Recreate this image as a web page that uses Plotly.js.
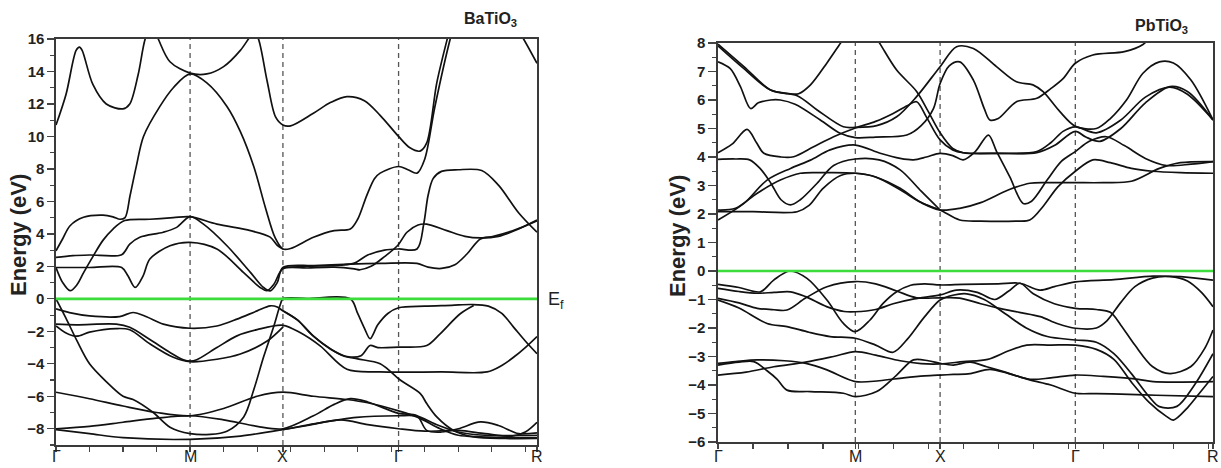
<!DOCTYPE html>
<html>
<head>
<meta charset="utf-8">
<script src="https://cdn.plot.ly/plotly-3.0.1.min.js"></script>
<style>html,body{margin:0;padding:0;background:#fff;}#chart{width:1221px;height:468px;}</style>
</head>
<body>
<div id="chart"></div>
<script>
// ---------- k-path ----------
const kLabels = ['Γ', 'M', 'X', 'Γ', 'R'];
const batioKpos = [0, 4.0, 6.77, 10.22, 14.35];
const ptioKpos = [0, 3.92, 6.34, 10.2, 14.13];

// ---------- BaTiO3 bands: [k, E(eV)] ----------
const bto_c1 = [[0,10.7],[0.3,12.6],[0.6,15.3],[0.7,15.5],[0.78,15.3],[1.1,13.2],[1.5,12.0],[2.0,11.7],[2.2,12.0],[2.45,13.8],[2.66,16],[2.85,16.9],[3.05,16],[3.4,14.6],[4.0,13.9],[4.5,13.85],[5.0,14.3],[5.5,15.3],[5.74,16],[5.9,16.5],[6.04,16],[6.3,13.4],[6.55,11.2],[6.77,10.7],[7.0,10.65],[7.68,11.43],[8.2,12.1],[8.68,12.45],[9.2,12.2],[9.67,11.3],[10.22,10.0],[10.56,9.3],[10.86,9.1],[11.06,9.6],[11.36,13.3],[11.66,15.9],[11.8,17]];
const bto_c2 = [[13.5,17.5],[13.95,16],[14.35,14.5]];
const bto_c3 = [[0,2.96],[0.2,3.7],[0.42,4.5],[0.82,5.02],[1.4,5.15],[1.7,5.05],[1.91,4.9],[2.06,5.0],[2.21,6.36],[2.4,8.2],[2.61,10.0],[3.1,11.85],[3.5,13.0],[4.0,13.85],[4.5,13.3],[5.1,11.85],[5.5,10.3],[5.9,8.15],[6.25,5.6],[6.54,3.75],[6.77,3.07],[7.0,3.1],[7.68,3.79],[8.3,4.2],[8.78,4.3],[9.0,4.9],[9.27,6.36],[9.5,7.4],[9.67,7.74],[10.22,8.15],[10.5,7.95],[10.77,7.74],[11.0,8.6],[11.3,11.8],[11.76,16],[11.9,17]];
const bto_c4 = [[0,1.93],[0.2,1.0],[0.42,0.5],[0.62,0.85],[0.82,1.6],[1.1,2.6],[1.4,3.6],[1.7,4.3],[2.05,4.82],[2.8,4.9],[3.5,5.0],[4.0,5.06],[4.8,4.6],[5.8,4.2],[6.39,3.8],[6.6,3.3],[6.77,3.07]];
const bto_c5 = [[0,2.55],[0.5,2.66],[1.0,2.7],[1.96,2.72],[2.2,3.37],[2.5,3.79],[3.2,4.1],[3.6,4.4],[4.0,5.06],[4.4,4.6],[5.1,3.27],[5.8,1.63],[6.19,0.7],[6.39,0.49],[6.6,1.0],[6.77,1.93],[7.7,2.05],[8.78,2.14],[9.7,2.18],[10.77,2.18],[11.1,1.95],[11.5,1.87],[11.9,2.1],[12.26,2.76],[12.66,3.68],[13.05,3.85],[13.7,4.25],[14.35,4.81]];
const bto_c6 = [[0,1.93],[1.0,1.93],[1.96,1.93],[2.15,1.4],[2.36,0.7],[2.6,1.42],[2.8,2.45],[3.4,3.27],[4.0,3.48],[4.8,3.07],[5.59,1.63],[6.09,0.7],[6.29,0.5],[6.5,0.9],[6.77,1.85],[7.5,1.9],[8.3,1.95],[8.9,1.85],[9.07,1.79],[9.4,2.0],[9.8,2.6],[10.2,3.3],[10.47,4.1],[10.8,4.55],[11.06,4.6],[11.66,4.2],[12.2,3.85],[12.66,3.75],[13.2,3.85],[13.8,4.3],[14.35,4.85]];
const bto_c7 = [[6.77,1.93],[7.5,2.0],[8.5,2.08],[8.9,2.2],[9.3,2.7],[9.8,3.0],[10.22,3.07],[10.77,3.07],[10.97,4.6],[11.1,6.36],[11.25,7.4],[11.5,7.85],[12.0,7.95],[12.7,7.9],[13.2,7.0],[13.8,5.3],[14.35,4.1]];
const bto_v1 = [[0,0],[0.3,-1.2],[0.62,-2.56],[1.0,-4.0],[1.5,-5.1],[2.0,-6.0],[2.3,-6.2],[2.9,-7.0],[3.4,-7.9],[4.0,-8.3],[4.6,-8.35],[5.1,-8.15],[5.6,-7.27],[5.9,-5.6],[6.19,-3.6],[6.49,-1.74],[6.7,-0.3],[6.77,0],[7.5,0.02],[8.78,0.0],[9.0,-0.9],[9.2,-1.8],[9.37,-2.45],[9.6,-1.6],[9.9,-0.9],[10.22,-0.55],[11.0,-0.45],[11.8,-0.4],[12.4,-0.35],[12.9,-0.45],[13.3,-0.9],[13.65,-1.74],[14.0,-2.6],[14.35,-3.38]];
const bto_v2 = [[0,-0.62],[0.4,-0.85],[1.0,-1.05],[1.9,-1.09],[2.3,-0.84],[2.7,-1.1],[3.2,-1.56],[4.0,-1.81],[4.8,-1.67],[5.4,-1.25],[6.0,-0.74],[6.39,-0.43],[6.6,-0.5],[6.77,-0.74],[7.2,-1.3],[7.68,-2.3],[8.2,-3.1],[8.68,-3.55],[9.1,-3.5],[9.37,-2.87],[9.6,-3.0],[10.22,-2.97],[11.06,-2.87],[11.46,-2.15],[12.06,-0.92],[12.46,-0.41]];
const bto_v3 = [[0,-1.56],[0.6,-1.6],[1.8,-1.56],[2.2,-1.75],[2.8,-2.5],[3.4,-3.3],[3.8,-3.75],[4.0,-3.83],[4.2,-3.75],[4.8,-3.0],[5.4,-2.28],[6.0,-1.9],[6.77,-1.63],[7.28,-2.08],[7.88,-2.9],[8.68,-4.34],[9.67,-4.5],[11.5,-4.5],[12.86,-4.5],[13.3,-4.1],[13.65,-3.6],[14.0,-3.0],[14.35,-2.32]];
const bto_v4 = [[0,-1.67],[0.3,-2.1],[0.62,-2.3],[1.0,-2.05],[1.8,-1.83],[2.2,-1.9],[2.8,-2.77],[3.5,-3.6],[4.0,-3.87],[4.8,-3.72],[5.5,-3.4],[6.3,-2.6],[6.77,-1.74]];
const bto_v5 = [[6.77,-0.74],[7.2,-1.3],[7.68,-2.3],[8.2,-3.1],[8.58,-3.52],[9.0,-3.7],[9.67,-4.0],[10.27,-5.0],[10.87,-5.84],[11.06,-6.45],[11.36,-7.27],[11.86,-8.1],[12.46,-8.5],[13.4,-8.6],[14.35,-8.6]];
const bto_v6 = [[0,-5.75],[1.0,-6.15],[2.0,-6.6],[3.0,-7.0],[4.0,-7.2],[5.0,-6.75],[6.0,-6.0],[6.77,-5.75],[7.68,-6.0],[8.68,-6.2],[9.3,-6.4],[10.22,-6.9],[10.8,-7.3],[11.46,-8.0],[12.0,-8.4],[12.66,-8.5],[13.5,-8.55],[14.35,-8.55]];
const bto_v7 = [[0,-8.0],[1.0,-7.85],[2.0,-7.6],[3.0,-7.35],[4.0,-7.2],[5.0,-7.45],[6.0,-7.85],[6.77,-8.0],[7.68,-7.2],[8.3,-6.5],[8.78,-6.15],[9.3,-6.35],[10.22,-7.05],[10.77,-7.2],[11.06,-8.1],[11.5,-8.2],[12.0,-8.0],[12.66,-7.58],[13.2,-7.8],[13.8,-8.3],[14.35,-8.25]];
const bto_v8 = [[0,-8.05],[1.0,-8.3],[2.0,-8.55],[4.0,-8.65],[5.5,-8.45],[6.77,-8.05],[7.68,-7.7],[8.97,-7.3],[10.22,-7.2],[10.77,-7.22],[11.3,-7.7],[12.0,-8.2],[12.8,-8.4],[14.35,-8.4]];
const bto_v9 = [[6.77,-8.05],[7.5,-7.8],[8.5,-7.45],[9.3,-7.75],[10.22,-8.0],[11.0,-8.15],[12.0,-8.1],[12.8,-8.3],[13.6,-8.45],[14.0,-8.2],[14.35,-7.6]];

// ---------- PbTiO3 bands: [k, E(eV)] ----------
const pto_c1 = [[0,7.96],[0.74,7.17],[1.5,6.35],[2.0,6.22],[2.3,6.22],[2.64,6.53],[3.11,7.3],[3.5,8.0],[3.9,8.7],[4.3,8.6],[4.63,7.96],[5.1,7.05],[5.67,6.3],[6.0,5.6],[6.34,4.85],[6.7,4.3],[7.0,4.15],[8.0,4.13],[9.1,4.19],[9.5,4.5],[9.85,4.9],[10.2,5.06],[10.8,4.85],[11.5,5.3],[12.2,6.1],[12.9,6.45],[13.4,6.2],[14.13,5.3]];
const pto_c2 = [[0,7.9],[0.74,7.1],[1.5,6.35],[2.26,6.15],[2.83,5.65],[3.58,5.06],[3.92,5.04],[4.53,5.1],[5.1,5.41],[5.67,6.12],[6.34,7.17],[6.81,7.87],[7.29,7.81],[7.95,7.17],[8.52,6.64],[8.99,6.53],[9.28,6.29],[9.76,5.59],[10.2,5.08],[10.8,5.0],[11.2,5.35],[11.66,6.0],[12.13,6.94],[12.6,7.34],[13.0,7.3],[13.5,6.7],[14.13,5.3]];
const pto_c3 = [[0,7.34],[0.35,7.1],[0.64,6.47],[0.93,5.7],[1.15,5.9],[1.5,6.0],[1.78,6.0],[2.2,5.85],[2.92,5.3],[3.49,4.83],[3.92,4.68],[4.5,4.7],[5.39,4.77],[5.8,5.1],[6.15,5.7],[6.34,6.58],[6.6,7.2],[6.9,7.34],[7.29,6.7],[7.6,5.7],[7.76,5.3],[8.0,5.35],[8.52,5.94],[9.1,6.06],[9.5,6.4],[9.85,6.75],[10.2,7.29],[10.7,7.58],[11.6,7.7],[12.13,7.95],[12.4,8.3]];
const pto_c4 = [[0,4.15],[0.4,4.45],[0.83,4.97],[1.1,4.5],[1.31,4.13],[1.8,4.0],[2.16,4.01],[2.73,4.36],[3.3,4.71],[3.92,5.02],[4.5,5.25],[5.0,5.53],[5.4,5.8],[5.67,5.94],[5.95,5.4],[6.34,4.6],[6.7,4.25],[7.0,4.15],[8.0,4.13],[9.1,4.15],[9.6,4.4],[10.2,4.9],[10.5,4.7],[10.9,4.55],[11.5,5.0],[12.2,5.9],[12.9,6.47],[13.4,6.3],[14.13,5.3]];
const pto_c5 = [[0,1.79],[0.74,2.37],[1.4,3.19],[2.07,3.6],[2.64,3.89],[3.2,4.25],[3.92,4.42],[4.63,4.13],[5.2,3.95],[5.58,3.9],[5.95,4.0],[6.34,4.13],[6.7,4.05],[7.0,3.9],[7.35,4.2],[7.72,4.77],[7.95,4.2],[8.33,3.3],[8.71,2.37],[8.95,2.45],[9.4,3.2],[9.8,3.85],[10.2,4.19],[10.6,4.55],[11.09,4.71],[11.6,4.4],[12.2,3.95],[12.8,3.7],[13.5,3.75],[14.13,3.84]];
const pto_c6 = [[0,3.92],[0.5,3.93],[0.9,3.9],[1.2,3.6],[1.5,3.1],[1.8,2.5],[2.07,2.32],[2.35,2.5],[2.83,3.08],[3.3,3.7],[3.92,3.93],[4.6,3.9],[5.2,3.55],[5.8,2.8],[6.34,2.14]];
const pto_c7 = [[0,2.08],[1.0,2.08],[2.26,2.08],[2.6,2.3],[3.0,2.9],[3.5,3.35],[3.92,3.43],[4.5,3.3],[5.2,2.9],[5.8,2.4],[6.34,2.14],[6.9,1.79],[7.5,1.75],[8.5,1.75],[8.9,1.79],[9.3,2.3],[9.7,2.95],[10.2,3.5],[10.7,3.9],[11.2,3.8],[11.8,3.6],[12.4,3.5],[13.2,3.45],[14.13,3.43]];
const pto_c8 = [[0,2.14],[0.5,2.2],[1.12,2.73],[1.78,3.19],[2.35,3.43],[3.0,3.45],[3.92,3.43],[4.5,3.3],[5.2,2.85],[5.8,2.4],[6.34,2.14],[6.9,2.2],[7.5,2.4],[8.3,2.85],[8.9,3.08],[9.5,3.1],[10.2,3.1],[11.0,3.1],[11.8,3.15],[12.6,3.6],[13.2,3.8],[14.13,3.84]];
const pto_v1 = [[0,-0.47],[0.6,-0.58],[1.21,-0.73],[1.59,-0.32],[2.05,0.0],[2.54,-0.26],[3.11,-1.02],[3.58,-1.84],[3.92,-2.13],[4.34,-1.72],[4.72,-1.13],[5.1,-0.73],[5.5,-0.5],[5.9,-0.45],[6.34,-0.49],[7.0,-0.47],[8.0,-0.45],[8.62,-0.43],[9.19,-0.67],[9.6,-0.55],[10.2,-0.38],[11.3,-0.3],[12.42,-0.18],[13.2,-0.2],[14.13,-0.32]];
const pto_v2 = [[0,-0.61],[0.6,-0.72],[1.12,-0.78],[1.6,-0.75],[2.07,-0.73],[2.5,-0.9],[3.1,-1.25],[3.6,-1.42],[3.92,-1.43],[4.5,-1.35],[5.0,-1.15],[5.6,-0.98],[6.34,-0.84],[6.81,-0.67],[7.4,-0.75],[7.9,-1.0],[8.3,-0.7],[8.62,-0.43],[9.0,-0.8],[9.6,-1.15],[10.2,-1.31],[10.8,-1.35],[11.2,-1.45],[11.5,-1.9],[11.9,-2.6],[12.4,-3.35],[12.9,-3.6],[13.5,-3.35],[13.9,-2.7],[14.13,-2.07]];
const pto_v3 = [[0,-0.96],[0.6,-1.12],[1.12,-1.31],[1.6,-1.36],[1.97,-1.37],[2.5,-0.95],[3.11,-0.55],[3.92,-0.37],[4.5,-0.45],[5.1,-0.7],[5.67,-0.94],[6.34,-0.94],[6.9,-0.95],[7.5,-1.15],[8.0,-1.3],[8.6,-1.45],[9.2,-1.6],[9.7,-1.85],[10.2,-2.01],[10.8,-2.0],[11.1,-1.75],[11.5,-1.1],[11.9,-0.55],[12.4,-0.25],[12.9,-0.2],[13.4,-0.35],[13.8,-0.75],[14.13,-1.25]];
const pto_v4 = [[0,-1.02],[0.6,-1.3],[1.4,-1.84],[1.97,-1.95],[2.6,-2.15],[3.2,-2.3],[3.92,-2.36],[4.5,-2.6],[5.0,-2.85],[5.4,-2.4],[5.9,-1.6],[6.34,-1.02],[6.7,-0.85],[7.1,-0.8],[7.6,-1.0],[8.2,-1.5],[8.8,-2.0],[9.4,-2.3],[10.2,-2.42],[10.8,-2.5],[11.3,-2.9],[11.8,-3.6],[12.3,-4.4],[12.6,-4.76],[13.1,-4.75],[13.6,-4.0],[14.13,-2.9]];
const pto_v5 = [[0,-3.3],[0.6,-3.2],[1.02,-3.18],[1.4,-3.5],[1.69,-3.8],[1.97,-4.18],[2.64,-4.23],[3.58,-4.29],[3.92,-4.41],[4.53,-4.23],[5.1,-3.65],[5.58,-3.12],[6.0,-3.15],[6.34,-3.24],[6.72,-3.3],[7.2,-3.2],[7.67,-3.36],[8.2,-3.55],[8.9,-3.8],[9.5,-3.75],[10.2,-3.65],[11.0,-3.7],[12.0,-3.8],[12.42,-3.88],[14.13,-3.88]];
const pto_v6 = [[0,-3.24],[0.5,-3.18],[1.12,-3.12],[1.9,-3.15],[2.54,-3.25],[3.11,-3.47],[3.92,-3.88],[4.6,-3.85],[5.3,-3.75],[5.9,-3.68],[6.34,-3.65],[6.72,-3.63],[7.2,-3.6],[7.76,-3.45],[8.3,-3.6],[8.9,-3.82],[9.5,-4.0],[10.2,-4.29],[10.8,-4.3],[11.5,-4.32],[12.5,-4.36],[14.13,-4.41]];
const pto_v7 = [[0,-3.65],[0.8,-3.55],[1.59,-3.36],[2.5,-3.2],[3.3,-3.0],[3.92,-2.83],[4.5,-2.95],[5.2,-3.15],[5.8,-3.25],[6.34,-3.26],[7.0,-3.18],[7.7,-3.1],[8.3,-2.8],[8.81,-2.6],[9.5,-2.6],[10.2,-2.6],[10.8,-2.75],[11.3,-3.1],[11.8,-3.9],[12.3,-4.6],[12.8,-5.1],[13.0,-5.23],[13.4,-4.8],[13.8,-4.2],[14.13,-3.7]];

const batioBands = [bto_c1,bto_c2,bto_c3,bto_c4,bto_c5,bto_c6,bto_c7,bto_v1,bto_v2,bto_v3,bto_v4,bto_v5,bto_v6,bto_v7,bto_v8,bto_v9];
const ptioBands = [pto_c1,pto_c2,pto_c3,pto_c4,pto_c5,pto_c6,pto_c7,pto_c8,pto_v1,pto_v2,pto_v3,pto_v4,pto_v5,pto_v6,pto_v7];

// ---------- build ----------
const FONT = 'Liberation Sans, Arial, sans-serif';
const W = 1221, H = 468;
const traces = [];
function addBands(bands, xa, ya) {
  bands.forEach(b => traces.push({
    x: b.map(p => p[0]), y: b.map(p => p[1]),
    xaxis: xa, yaxis: ya, type: 'scatter', mode: 'lines',
    line: {color: '#111', width: 1.7, shape: 'spline', smoothing: 0.9},
    hoverinfo: 'skip', showlegend: false
  }));
}
addBands(batioBands, 'x', 'y');
addBands(ptioBands, 'x2', 'y2');

function xAxis(domainPx, kpos, anchor) {
  return {
    domain: [domainPx[0] / W, domainPx[1] / W], anchor: anchor,
    range: [0, kpos[kpos.length - 1]], tickmode: 'array', tickvals: kpos,
    showticklabels: false,
    ticks: 'outside', ticklen: 5, tickwidth: 1.2, tickcolor: '#444',
    minor: {tick0: 0, dtick: 1, ticks: 'outside', ticklen: 5, tickwidth: 1.2, tickcolor: '#444'},
    showline: true, linecolor: '#3a3a3a', linewidth: 1.6, mirror: true,
    showgrid: false, zeroline: false, fixedrange: true
  };
}
function yAxis(domainPx, range, dtick, mdtick, anchor, len) {
  return {
    domain: [1 - domainPx[1] / H, 1 - domainPx[0] / H], anchor: anchor,
    range: range, tick0: 0, dtick: dtick,
    ticks: 'outside', ticklen: len, tickwidth: 1.3, tickcolor: '#444',
    minor: {dtick: mdtick, ticks: 'outside', ticklen: 4, tickwidth: 1.1, tickcolor: '#444'},
    showline: true, linecolor: '#3a3a3a', linewidth: 1.6, mirror: true,
    showgrid: false, zeroline: false,
    tickfont: {family: FONT, size: 15, color: '#222', weight: 'bold'}, fixedrange: true
  };
}

const shapes = [];
function kLines(kpos, xref, yref) {
  kpos.slice(1, -1).forEach(k => shapes.push({
    type: 'line', xref: xref, yref: yref + ' domain', x0: k, x1: k, y0: 0, y1: 1,
    line: {color: '#555', width: 1.3, dash: '5px,4px'}, layer: 'below'
  }));
  shapes.push({type: 'line', xref: xref + ' domain', yref: yref, x0: 0, x1: 1, y0: 0, y1: 0,
    line: {color: '#3ddc3d', width: 2.6}, layer: 'above'});
}
kLines(batioKpos, 'x', 'y');
kLines(ptioKpos, 'x2', 'y2');

const ann = (x, y, text, size, bold, extra) => Object.assign({
  xref: 'paper', yref: 'paper', x: x / W, y: 1 - y / H, text: text, showarrow: false,
  xanchor: 'center', yanchor: 'middle',
  font: {family: FONT, size: size, color: '#222', weight: bold ? 'bold' : 'normal'}
}, extra || {});

const annotations = [
  ann(490, 20, 'BaTiO<sub>3</sub>', 16, true),
  ann(1161, 26, 'PbTiO<sub>3</sub>', 16, true),
  ann(546, 300, 'E<sub>f</sub>', 18, false, {xanchor: 'left'}),
  ann(18, 235, 'Energy (eV)', 22, true, {textangle: -90}),
  ann(677, 236, 'Energy (eV)', 22, true, {textangle: -90})
];
// k-point labels under each panel, placed on the axes' own k positions
function kAnnotations(kpos, xref) {
  kpos.forEach((k, i) => annotations.push({
    xref: xref, yref: 'paper', x: k, y: 1 - 447 / H, yanchor: 'top', xanchor: 'center',
    text: kLabels[i], showarrow: false, borderpad: 0,
    font: {family: FONT, size: 16, color: '#222'}
  }));
}
kAnnotations(batioKpos, 'x');
kAnnotations(ptioKpos, 'x2');

const layout = {
  width: W, height: H, margin: {l: 0, r: 0, t: 0, b: 0},
  paper_bgcolor: '#fff', plot_bgcolor: '#fff', showlegend: false,
  xaxis: xAxis([56, 537], batioKpos, 'y'),
  yaxis: yAxis([39, 445], [-9, 16], 2, 1, 'x', 7),
  xaxis2: xAxis([718, 1213], ptioKpos, 'y2'),
  yaxis2: yAxis([43, 442], [-6, 8], 1, 0.5, 'x2', 8),
  shapes: shapes,
  annotations: annotations
};

Plotly.newPlot('chart', traces, layout, {displayModeBar: false, staticPlot: true});
</script>
</body>
</html>
